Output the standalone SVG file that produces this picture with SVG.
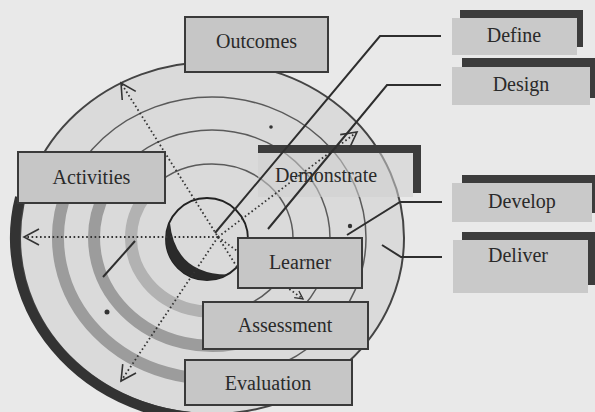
<svg xmlns="http://www.w3.org/2000/svg" width="595" height="412" viewBox="0 0 595 412">
<style>
.lbl{font-family:"Liberation Serif","Times New Roman",serif;font-size:20px;fill:#2a2a2a;text-anchor:middle}
.box{fill:#c6c6c6;stroke:#3a3a3a;stroke-width:2}
.rbox{fill:#c9c9c9}
.shadow{fill:#3c3c3c}
.ring{fill:none;stroke:#5a5a5a;stroke-width:1.5}
.band{fill:none;stroke:#9c9c9c;stroke-width:12}
.solid{fill:none;stroke:#2e2e2e;stroke-width:2}
.dot{fill:none;stroke:#333;stroke-width:1.8;stroke-dasharray:1.6 2.6}
</style>
<defs>
<marker id="arr" markerUnits="userSpaceOnUse" markerWidth="22" markerHeight="22" viewBox="0 0 22 22" refX="18" refY="11" orient="auto">
<path d="M3,3 L18,11 L3,19" fill="none" stroke="#333" stroke-width="1.6"/>
</marker>
<marker id="arrs" markerUnits="userSpaceOnUse" markerWidth="12" markerHeight="12" viewBox="0 0 12 12" refX="10" refY="6" orient="auto">
<path d="M2,2 L10,6 L2,10" fill="none" stroke="#333" stroke-width="1.3"/>
</marker>
</defs>
<rect width="595" height="412" fill="#e9e9e9"/>
<g id="rings">
<ellipse cx="212" cy="238" rx="192" ry="176" fill="#dadada" stroke="#444" stroke-width="2"/>
<ellipse class="ring" cx="212" cy="238" rx="154" ry="141"/>
<ellipse class="ring" cx="212" cy="238" rx="118" ry="108"/>
<ellipse class="ring" cx="212" cy="238" rx="81" ry="74"/>
<path class="band" d="M67.3 189.8 A154 141 0 0 0 249.3 374.8"/>
<path class="band" d="M105.1 192.4 A118 108 0 0 0 252.4 339.5"/>
<path class="band" style="stroke:#b2b2b2" d="M145.6 195.6 A81 74 0 0 0 239.7 307.5"/>
<path fill="none" stroke="#333" stroke-width="10" d="M20 197.5 A197 180 0 0 0 229.2 417.3"/>
<circle cx="207" cy="239" r="41" fill="none" stroke="#222" stroke-width="1.8"/>
<path fill="#2a2a2a" d="M169.8 221.7 A41 41 0 0 0 227.5 274.5 Q174.8 274.1 169.8 221.7 Z"/>
<circle cx="271" cy="127" r="1.8" fill="#333"/>
<circle cx="350" cy="226" r="2.2" fill="#333"/>
<circle cx="107" cy="312" r="2.5" fill="#333"/>
</g>
<g id="demonstrate">
<rect x="258" y="153" width="155" height="44" fill="#cfcfcf" opacity="0.55"/>
<rect class="shadow" x="258" y="145" width="163" height="8"/>
<rect class="shadow" x="413" y="145" width="8" height="48"/>
<text class="lbl" x="326" y="182">Demonstrate</text>
</g>
<g id="connectors">
<line class="dot" x1="237" y1="267" x2="121" y2="83" marker-end="url(#arr)"/>
<line class="dot" x1="218" y1="237" x2="24" y2="237" marker-end="url(#arr)"/>
<line class="dot" x1="218" y1="237" x2="121" y2="381" marker-end="url(#arr)"/>
<line class="dot" x1="218" y1="237" x2="357" y2="132" marker-end="url(#arr)"/>
<line class="dot" x1="218" y1="237" x2="303" y2="299" marker-end="url(#arrs)"/>
<polyline class="solid" points="441,36 380,36 215,233"/>
<polyline class="solid" points="441,85 387,85 268,229"/>
<polyline class="solid" points="442,202 400,202 347,235"/>
<polyline class="solid" points="442,257 401,257 382,245"/>
<line class="solid" x1="103" y1="277" x2="135" y2="241"/>
</g>
<g id="outcomes">
<rect class="box" x="185" y="17" width="143" height="55"/>
<text class="lbl" x="256.5" y="48">Outcomes</text>
</g>
<g id="activities">
<rect class="box" x="18" y="152" width="147" height="51"/>
<text class="lbl" x="91.5" y="184">Activities</text>
</g>
<g id="learner">
<rect class="box" x="238" y="238" width="124" height="50"/>
<text class="lbl" x="300" y="269">Learner</text>
</g>
<g id="assessment">
<rect class="box" x="203" y="302" width="165" height="47"/>
<text class="lbl" x="285" y="332">Assessment</text>
</g>
<g id="evaluation">
<rect class="box" x="185" y="360" width="167" height="45"/>
<text class="lbl" x="268" y="390">Evaluation</text>
</g>
<g id="define">
<rect class="shadow" x="460" y="10" width="123" height="37"/>
<rect class="rbox" x="452" y="18" width="125" height="37"/>
<text class="lbl" x="514" y="42">Define</text>
</g>
<g id="design">
<rect class="shadow" x="462" y="58" width="135" height="40"/>
<rect class="rbox" x="452" y="67" width="138" height="38"/>
<text class="lbl" x="521" y="91">Design</text>
</g>
<g id="develop">
<rect class="shadow" x="462" y="175" width="135" height="38"/>
<rect class="rbox" x="452" y="183" width="140" height="39"/>
<text class="lbl" x="522" y="208">Develop</text>
</g>
<g id="deliver">
<rect class="shadow" x="462" y="232" width="135" height="53"/>
<rect class="rbox" x="453" y="240" width="135" height="53"/>
<text class="lbl" x="518" y="262">Deliver</text>
</g>
</svg>
